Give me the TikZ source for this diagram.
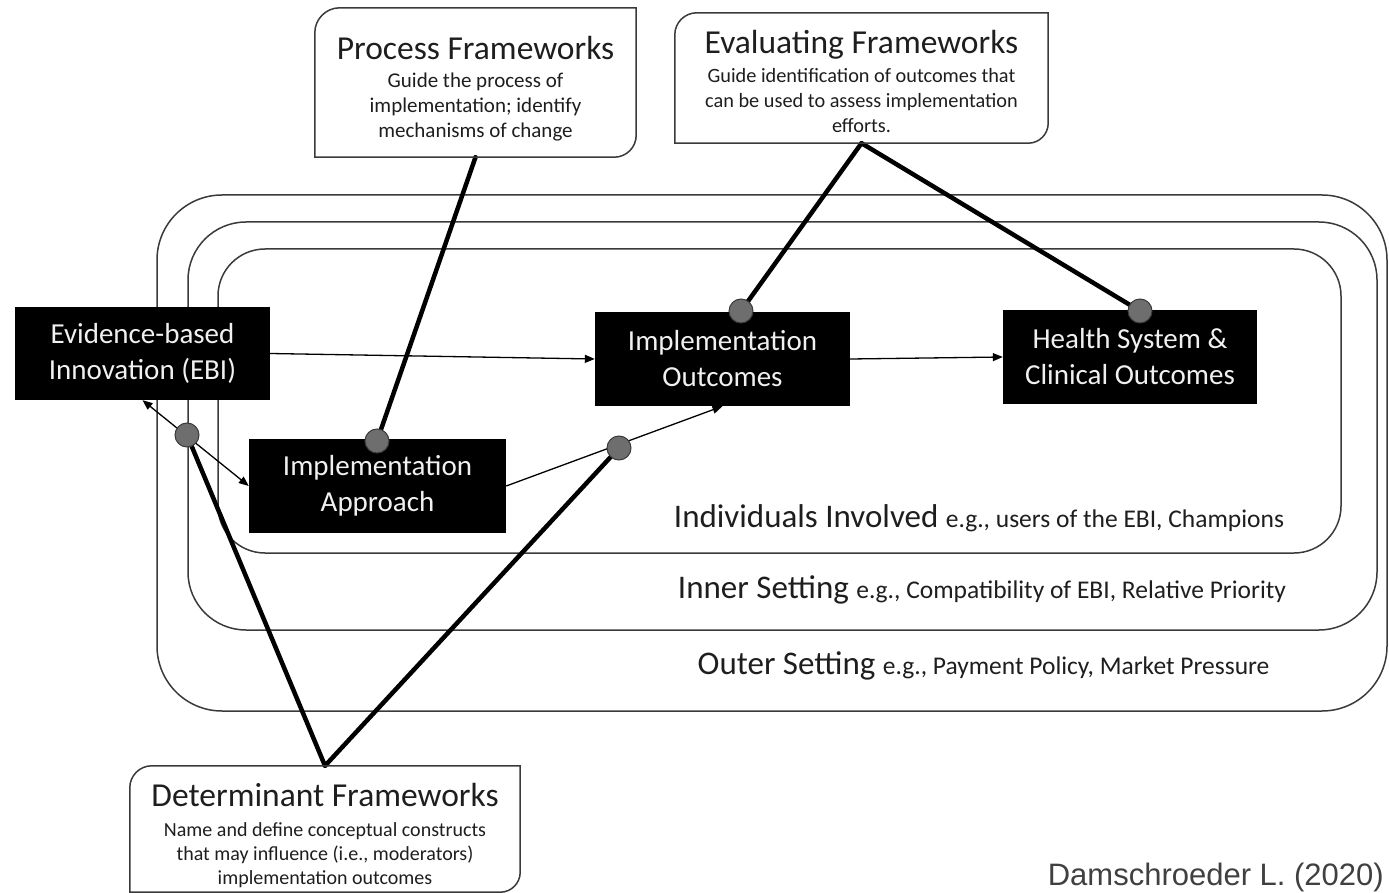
\documentclass[tikz,border=0pt]{standalone}
\usepackage{fontspec}
\setmainfont{Carlito}
\newfontfamily\arialfont{Liberation Sans}
\usetikzlibrary{arrows.meta,calc,backgrounds}
\pgfdeclarelayer{lines}
\pgfsetlayers{background,lines,main}
\definecolor{linegray}{HTML}{3A3A3A}
\definecolor{dotgray}{HTML}{6E6E6E}
\definecolor{txtdark}{HTML}{1E1E1E}
\definecolor{citegray}{HTML}{404040}
\definecolor{boxtext}{HTML}{F0F0F0}
\newcommand{\fwt}{\fontsize{33.5}{36}\selectfont}
\newcommand{\fwframe}[3]{%
  \draw[fwline] ([yshift=-#2pt]#1.north west) arc[start angle=180,end angle=90,radius=#2pt]
    -- (#1.north east) -- ([yshift=#3pt]#1.south east) arc[start angle=0,end angle=-90,radius=#3pt]
    -- (#1.south west) -- cycle;}
\tikzset{
  setting/.style={draw=linegray, line width=1.5pt, inner sep=0pt},
  blk/.style={fill=black, text=boxtext, align=center, inner sep=0pt,
    font=\fontsize{29}{36}\selectfont},
  fwbox/.style={inner sep=0pt},
  fwtext/.style={align=center, inner sep=0pt, text=txtdark},
  fwline/.style={draw=linegray, line width=1.5pt},
  dot/.style={circle, fill=dotgray, draw=linegray, line width=1pt, minimum size=24pt, inner sep=0pt},
  thinarrow/.style={line width=1.3pt, -{Triangle[length=10pt,width=8pt]}},
  thickline/.style={line width=4.5pt, line cap=round},
  lab/.style={anchor=base, inner sep=0pt, text=txtdark}
}
\newcommand{\labbig}{\fontsize{33}{36}\selectfont}
\newcommand{\labsmall}{\fontsize{25.5}{28}\selectfont}
\begin{document}
\begin{tikzpicture}[x=1pt,y=1pt]
\useasboundingbox (0,0) rectangle (1389,-893);
% settings
\begin{pgfonlayer}{background}
\node[setting, rounded corners=65pt, minimum width=1230pt, minimum height=516pt] (outer) at (772,-453) {};
\node[setting, rounded corners=58pt, minimum width=1189pt, minimum height=408pt] (inner) at (782.5,-426) {};
\node[setting, rounded corners=47pt, minimum width=1123pt, minimum height=304pt] (indiv) at (779.5,-401) {};
\end{pgfonlayer}
\node[lab] (lab1) at (979,-527) {{\labbig Individuals Involved }{\labsmall e.g., users of the EBI, Champions}};
\node[lab] (lab2) at (982,-598) {{\labbig Inner Setting }{\labsmall e.g., Compatibility of EBI, Relative Priority}};
\node[lab] (lab3) at (983.5,-674) {{\labbig Outer Setting }{\labsmall e.g., Payment Policy, Market Pressure}};
% black boxes
\node[blk, minimum width=255pt, minimum height=93pt] (ebi) at (142.5,-353.5) {Evidence-based\\Innovation (EBI)};
\node[blk, minimum width=257pt, minimum height=94pt] (ia) at (377.5,-486) {Implementation\\Approach};
\node[blk, minimum width=255pt, minimum height=94pt] (io) at (722.5,-359) {Implementation\\Outcomes};
\node[blk, minimum width=254pt, minimum height=94pt] (hs) at (1130,-357) {Health System \&\\Clinical Outcomes};
% framework boxes
\node[fwbox, minimum width=321pt, minimum height=149pt] (pf) at (475.5,-82.5) {};
\node[fwbox, minimum width=373pt, minimum height=130pt] (ef) at (861.5,-78) {};
\node[fwbox, minimum width=390pt, minimum height=126pt] (df) at (325,-829) {};
\fwframe{pf}{25}{22}
\fwframe{ef}{22}{20}
\fwframe{df}{22}{20}
\node[fwtext, font=\fontsize{21}{25}\selectfont] (pft) at (475.5,-89) {{\fwt Process Frameworks}\\[3pt]Guide the process of\\implementation; identify\\mechanisms of change};
\node[fwtext, font=\fontsize{20.3}{25}\selectfont] (eft) at (861.5,-81.5) {{\fwt Evaluating Frameworks}\\[4pt]Guide identification of outcomes that\\can be used to assess implementation\\efforts.};
\node[fwtext, font=\fontsize{20}{24}\selectfont] (dft) at (325,-835.5) {{\fwt Determinant Frameworks}\\[6pt]Name and define conceptual constructs\\that may influence (i.e., moderators)\\implementation outcomes};
% circles
\node[dot] (c1) at (187,-435) {};
\node[dot] (c2) at (377,-441) {};
\node[dot] (c3) at (619,-448) {};
\node[dot] (c4) at (741,-311) {};
\node[dot] (c5) at (1140,-311) {};
% connectors
\begin{pgfonlayer}{lines}
\draw[thinarrow] (ebi.east) -- (io.west);
\draw[thinarrow] (io.east) -- (hs.west);
\draw[thinarrow] (ia.east) -- (io.south);
\draw[line width=1.3pt, {Triangle[length=10pt,width=8pt]}-{Triangle[length=10pt,width=8pt]}] (ebi.south) -- (ia.west);
\draw[thickline] (pf.south) -- (c2.center);
\draw[thickline] (ef.south) -- (c4.center);
\draw[thickline] (ef.south) -- (c5.center);
\draw[thickline] (df.north) -- (c1.center);
\draw[thickline] (df.north) -- (c3.center);
\end{pgfonlayer}
\node[anchor=base east, inner sep=0pt, text=citegray, font=\arialfont\fontsize{31}{34}\selectfont] (cite) at (1384,-885) {Damschroeder L. (2020)};
\end{tikzpicture}
\end{document}
